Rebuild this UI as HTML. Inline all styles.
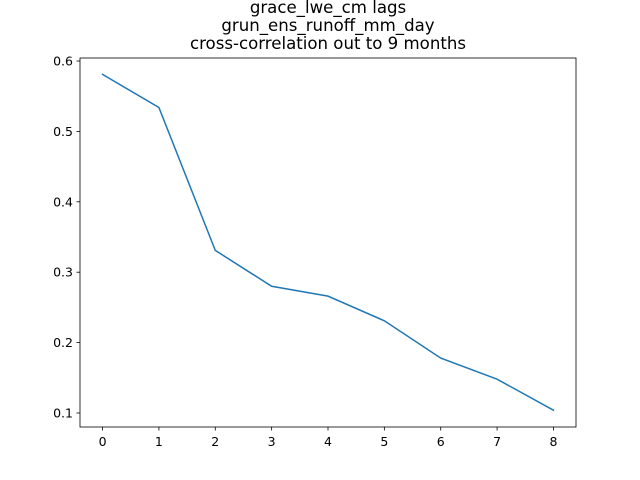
<!DOCTYPE html>
<html><head><meta charset="utf-8"><style>
body{margin:0;background:#fff}
svg{display:block;font-family:"DejaVu Sans","Liberation Sans",sans-serif}
</style></head><body>
<svg id="chart" width="640" height="480">
<rect width="640" height="480" fill="#fff"/>
<g id="title" font-size="16.6" text-anchor="middle" fill="#000">
<text x="328" y="13">grace_lwe_cm lags</text>
<text x="328" y="31">grun_ens_runoff_mm_day</text>
<text x="328" y="49">cross-correlation out to 9 months</text>
</g>
<g id="axes"></g>
</svg>
<script>
const lags=[0,1,2,3,4,5,6,7,8];
const corr=[0.581,0.534,0.331,0.280,0.266,0.231,0.178,0.148,0.104];
const xTicks=[0,1,2,3,4,5,6,7,8];
const yTicks=[0.1,0.2,0.3,0.4,0.5,0.6];
const yTickLabels=["0.1","0.2","0.3","0.4","0.5","0.6"];
const L=80,R=576,T=58,B=427;
const xMin=-0.4,xMax=8.4,yMin=0.0801,yMax=0.6043;
const sx=v=>L+(v-xMin)/(xMax-xMin)*(R-L);
const sy=v=>B-(v-yMin)/(yMax-yMin)*(B-T);
const NS="http://www.w3.org/2000/svg";
const g=document.getElementById('axes');
function mk(t,a){const e=document.createElementNS(NS,t);for(const k in a)e.setAttribute(k,a[k]);g.appendChild(e);return e;}
let p=lags.map((x,i)=>(i?'L':'M')+sx(x).toFixed(2)+','+sy(corr[i]).toFixed(2)).join(' ');
const line=mk('path',{d:p,fill:'none',stroke:'#1f77b4','stroke-width':1.5,'stroke-linecap':'square'});


const frame=mk('rect',{x:L,y:T,width:R-L,height:B-T,fill:'none',stroke:'#000','stroke-width':0.8});


xTicks.forEach(v=>{
 const x=sx(v);
 const tk=mk('line',{x1:x,x2:x,y1:B,y2:B+3.5,stroke:'#000','stroke-width':0.8});
 
 
 const t=mk('text',{x:x,y:B+19,'font-size':12.5,'text-anchor':'middle'});
 t.textContent=String(v);
 
 
});
yTicks.forEach((v,i)=>{
 const y=sy(v);
 const tk=mk('line',{x1:L-3.5,x2:L,y1:y,y2:y,stroke:'#000','stroke-width':0.8});
 
 
 const t=mk('text',{x:L-7,y:y+4.5,'font-size':12.5,'text-anchor':'end'});
 t.textContent=yTickLabels[i];
 
 
});
</script>
</body></html>
